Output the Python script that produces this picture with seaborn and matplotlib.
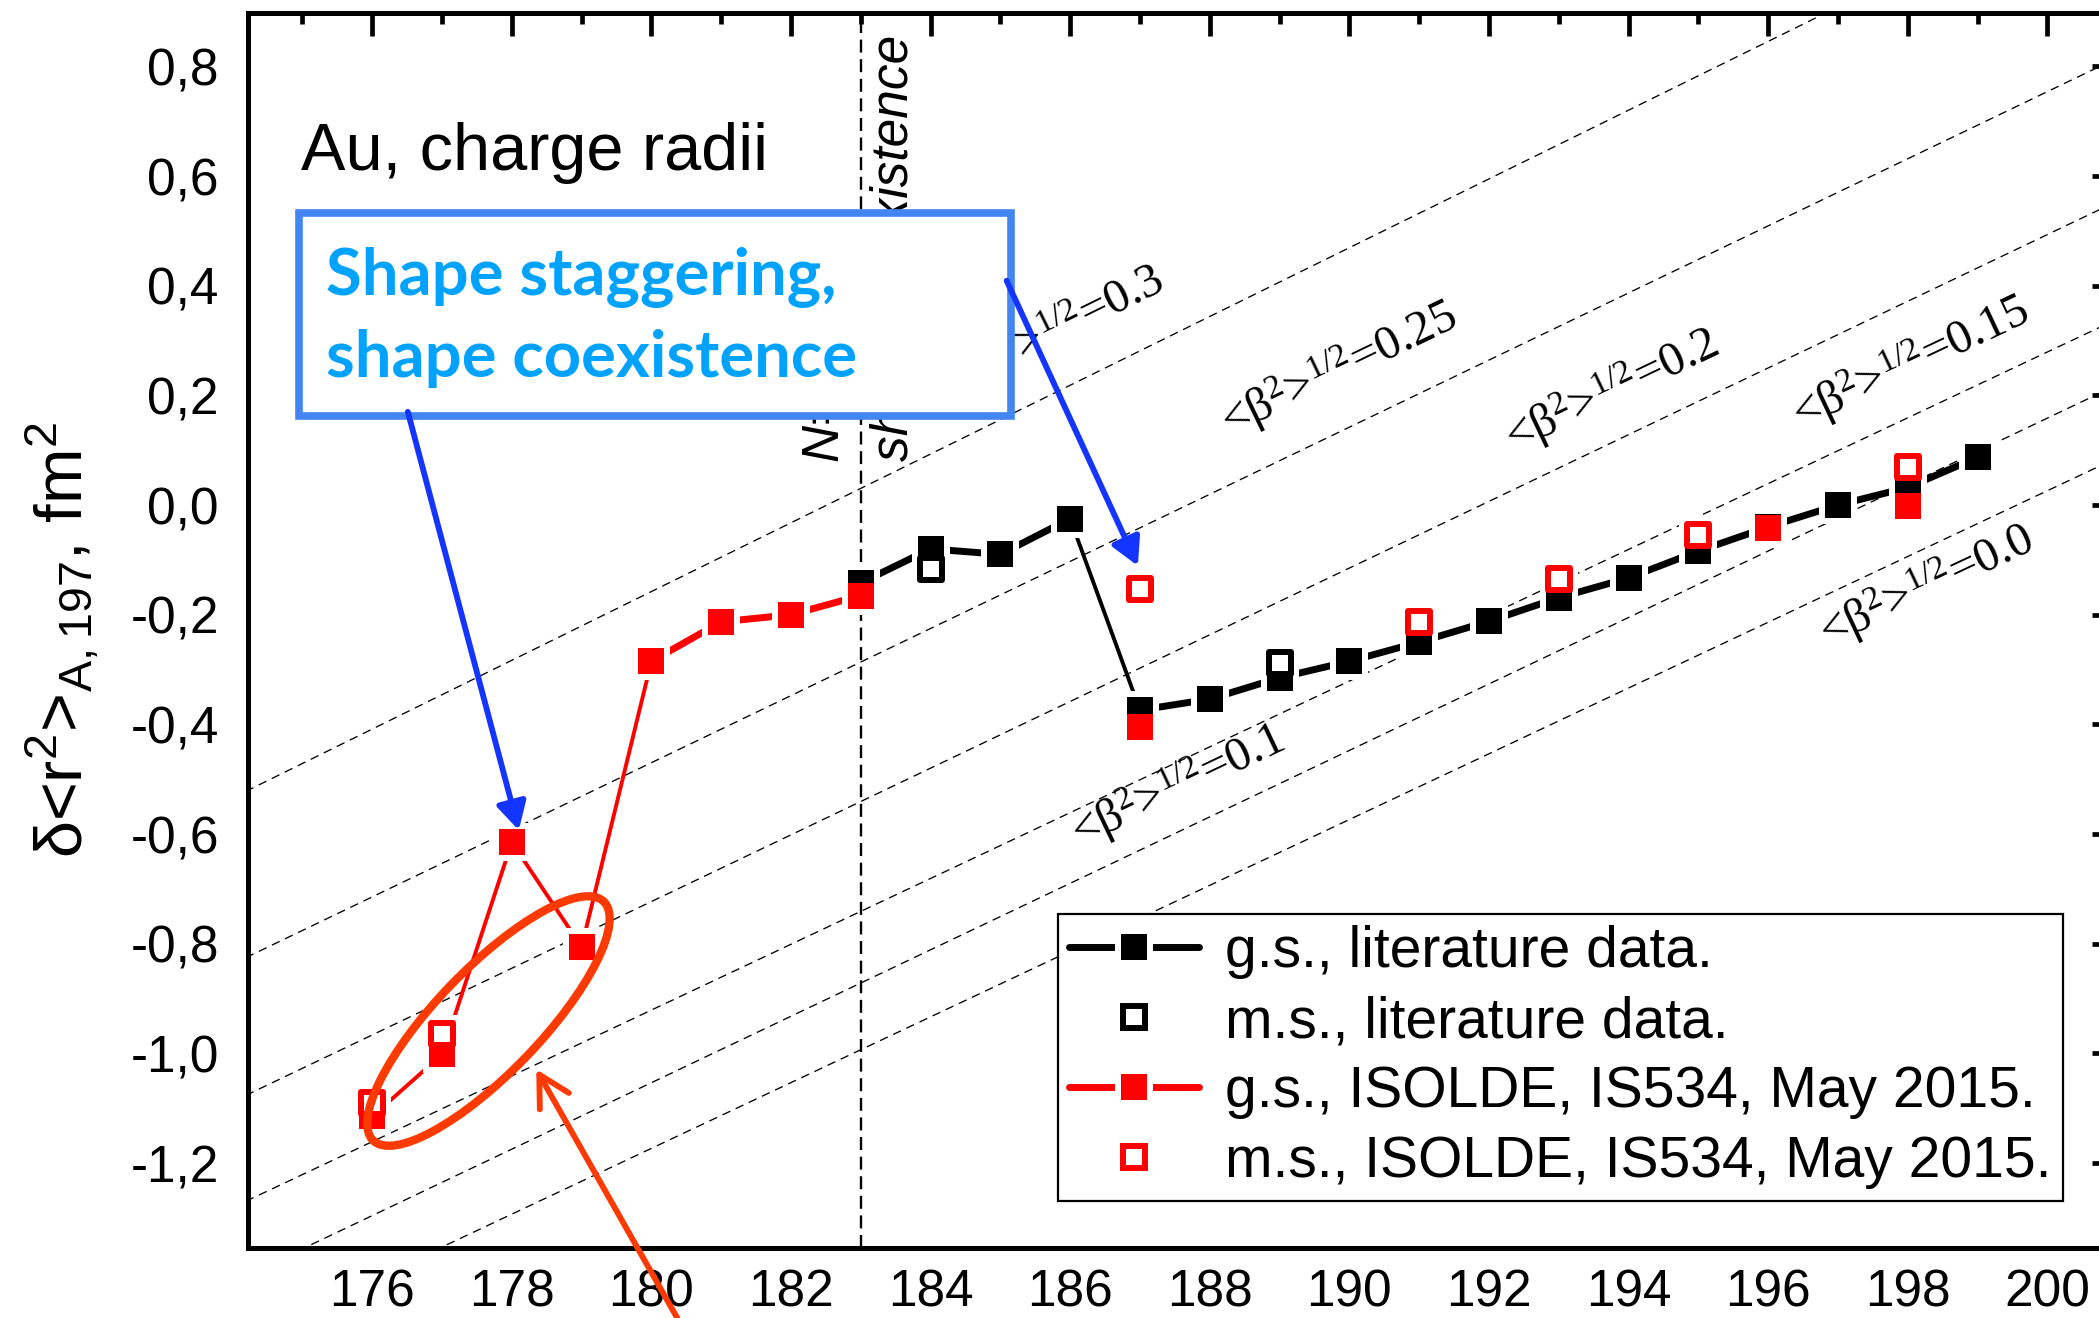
import numpy as np
import pandas as pd
import matplotlib
matplotlib.use("Agg")
import matplotlib.pyplot as plt
import matplotlib.transforms as mtransforms
from matplotlib.patches import Rectangle, Ellipse
from matplotlib.lines import Line2D
from matplotlib.legend_handler import HandlerTuple
from matplotlib.ticker import FixedLocator, FixedFormatter, MultipleLocator
import seaborn as sns

# ---------------- data ----------------
# ground states, literature data (black, filled)
gs_lit_A = [183, 184, 185, 186, 187, 188, 189, 190, 191, 192, 193, 194, 195, 196, 197, 198, 199]
gs_lit_r = [-0.142, -0.080, -0.090, -0.025, -0.374, -0.354, -0.315, -0.285, -0.250,
            -0.212, -0.169, -0.133, -0.084, -0.040, 0.000, 0.032, 0.087]
# isomers, literature data (black, open)
ms_lit_A = [184, 189]
ms_lit_r = [-0.116, -0.288]
# ground states, ISOLDE IS534 (red, filled) - connected chain
gs_iso_A = [176, 177, 178, 179, 180, 181, 182, 183]
gs_iso_r = [-1.115, -1.002, -0.615, -0.806, -0.285, -0.213, -0.200, -0.165]
# ground states, ISOLDE IS534 (red, filled) - single points
gs_iso_single_A = [187, 196, 198]
gs_iso_single_r = [-0.404, -0.041, -0.001]
# isomers, ISOLDE IS534 (red, open)
ms_iso_A = [176, 177, 187, 191, 193, 195, 198]
ms_iso_r = [-1.090, -0.964, -0.154, -0.214, -0.134, -0.055, 0.069]

# iso-deformation lines <beta^2>^1/2 = const : value at A=174 and A=201
beta_labels = ["0.3", "0.25", "0.2", "0.15", "0.1", "0.0"]
beta_line_A = [174.0, 201.0]
beta_r_start = [-0.534, -0.837, -1.088, -1.281, -1.417, -1.533]
beta_r_end = [1.159, 0.815, 0.554, 0.339, 0.219, 0.086]

n104_A = 183  # N = 104 mid-shell

x_ticks = [176, 178, 180, 182, 184, 186, 188, 190, 192, 194, 196, 198, 200]
x_tick_labels = [str(v) for v in x_ticks]
y_ticks = [-1.2, -1.0, -0.8, -0.6, -0.4, -0.2, 0.0, 0.2, 0.4, 0.6, 0.8]
y_tick_labels = ["-1,2", "-1,0", "-0,8", "-0,6", "-0,4", "-0,2", "0,0", "0,2", "0,4", "0,6", "0,8"]

legend_labels = ["g.s., literature data.", "m.s., literature data.",
                 "g.s., ISOLDE, IS534, May 2015.", "m.s., ISOLDE, IS534, May 2015."]

# ---------------- style ----------------
sns.set_theme(style="white")
plt.rcParams["font.family"] = ["Liberation Sans", "DejaVu Sans"]
plt.rcParams["mathtext.default"] = "regular"
plt.rcParams["axes.unicode_minus"] = False

RED = "#FF0000"
BLUE_TXT = "#00A2FF"
BLUE_BOX = "#4485F4"
BLUE_ARR = "#1434FF"
ORANGE = "#FF3A00"

W, H = 2099, 1318
fig = plt.figure(figsize=(W / 100, H / 100), dpi=100)
fig.patch.set_facecolor("white")
ax = fig.add_axes([248 / W, 1 - 1247.5 / H, (2115 - 248) / W, (1247.5 - 12.6) / H])
ax.set_facecolor("white")
ax.set_xlim(174.22, 200.97)
ax.set_ylim(-1.354, 0.898)

# ---------------- iso-deformation lines ----------------
for r0, r1 in zip(beta_r_start, beta_r_end):
    sns.lineplot(x=beta_line_A, y=[r0, r1], ax=ax, color="black", lw=0.95,
                 linestyle=(0, (6.5, 4.5)), zorder=1)

ax.axvline(n104_A, color="black", lw=1.7, linestyle=(0, (5.5, 2.8)), zorder=1)

# ---------------- data series ----------------
gs_lit = pd.DataFrame({"A": gs_lit_A, "r": gs_lit_r})
gs_iso = pd.DataFrame({"A": gs_iso_A, "r": gs_iso_r})

THICK, THIN = 5.0, 2.8

def path(df, a0, a1, color, lw):
    seg = df[(df.A >= a0) & (df.A <= a1)]
    sns.lineplot(data=seg, x="A", y="r", ax=ax, color=color, lw=lw, sort=False,
                 estimator=None, legend=False, zorder=3, solid_capstyle="butt")

path(gs_lit, 183, 186, "black", THICK)
path(gs_lit, 186, 187, "black", THIN)
path(gs_lit, 187, 199, "black", THICK)
path(gs_iso, 176, 180, RED, THIN)
path(gs_iso, 180, 183, RED, THICK)

MS = 18.6      # filled square side (pt)
HALO = 27.0    # white gap around markers (pt)
OPEN_MS = 15.6
OPEN_EW = 4.3

all_A = gs_lit_A + ms_lit_A + gs_iso_A + gs_iso_single_A + ms_iso_A
all_r = gs_lit_r + ms_lit_r + gs_iso_r + gs_iso_single_r + ms_iso_r
sns.scatterplot(x=all_A, y=all_r, ax=ax, marker="s", s=HALO ** 2, color="white",
                edgecolor="white", linewidth=0, zorder=4, legend=False)

sns.scatterplot(x=gs_lit_A, y=gs_lit_r, ax=ax, marker="s", s=MS ** 2, color="black",
                edgecolor="black", linewidth=0, zorder=5, legend=False)
sns.scatterplot(x=ms_lit_A, y=ms_lit_r, ax=ax, marker="s", s=OPEN_MS ** 2, color="white",
                edgecolor="black", linewidth=OPEN_EW, zorder=6, legend=False)
sns.scatterplot(x=gs_iso_A + gs_iso_single_A, y=gs_iso_r + gs_iso_single_r, ax=ax,
                marker="s", s=MS ** 2, color=RED, edgecolor=RED, linewidth=0, zorder=6,
                legend=False)
sns.scatterplot(x=ms_iso_A, y=ms_iso_r, ax=ax, marker="s", s=OPEN_MS ** 2, color="white",
                edgecolor=RED, linewidth=OPEN_EW, zorder=7, legend=False)

# ---------------- axes styling ----------------
for sp in ax.spines.values():
    sp.set_linewidth(3.6)
    sp.set_color("black")
ax.spines["right"].set_visible(False)
ax.xaxis.set_major_locator(FixedLocator(x_ticks))
ax.xaxis.set_major_formatter(FixedFormatter(x_tick_labels))
ax.yaxis.set_major_locator(FixedLocator(y_ticks))
ax.yaxis.set_major_formatter(FixedFormatter(y_tick_labels))
ax.xaxis.set_minor_locator(MultipleLocator(1))
ax.yaxis.set_minor_locator(MultipleLocator(0.1))
ax.tick_params(which="both", direction="in", top=True, right=True, width=3.4,
               color="black", labelsize=37, labelcolor="black")
ax.tick_params(which="major", length=16.5)
ax.tick_params(which="minor", length=8)
ax.tick_params(axis="x", which="major", pad=15)
ax.tick_params(axis="y", which="major", pad=21)
ax.set_xlabel("")
ax.set_ylabel(r"δ<r$^2$>$_{A,197}$, fm$^2$", fontsize=48, color="black")
ax.yaxis.set_label_coords(-0.079, 0.492)

# ---------------- beta labels ----------------
beta_label_pos = [(184.41, 0.205), (188.29, 0.124), (192.36, 0.095),
                  (196.47, 0.137), (186.14, -0.626), (196.86, -0.261)]
fig.canvas.draw()
for lab, r0, r1, (bx, by) in zip(beta_labels, beta_r_start, beta_r_end, beta_label_pos):
    p0 = ax.transData.transform((beta_line_A[0], r0))
    p1 = ax.transData.transform((beta_line_A[1], r1))
    ang = np.degrees(np.arctan2(p1[1] - p0[1], p1[0] - p0[0]))
    ax.text(bx, by, "<β$^2$>$^{1/2}$=" + lab, rotation=ang, rotation_mode="anchor",
            ha="left", va="baseline", fontsize=35, family=["Liberation Serif", "DejaVu Serif"],
            color="black", zorder=2)

# ---------------- texts ----------------
ax.text(174.98, 0.611, "Au, charge radii", fontsize=48, color="black", zorder=2)
ax.text(182.67, 0.080, "N=104", rotation=90, rotation_mode="anchor", ha="left",
        va="baseline", fontsize=37, style="italic", color="black", zorder=2)
ax.text(183.68, 0.080, "shape coexistence", rotation=90, rotation_mode="anchor", ha="left",
        va="baseline", fontsize=37, style="italic", color="black", zorder=2)

# blue box
box = Rectangle((174.95, 0.162), 10.2, 0.371, facecolor="white", edgecolor=BLUE_BOX,
                lw=5.5, zorder=8)
ax.add_patch(box)
ax.text(175.34, 0.383, "Shape staggering,", fontsize=47, weight="bold",
        family=["Lato", "DejaVu Sans"], color=BLUE_TXT, zorder=9)
ax.text(175.34, 0.233, "shape coexistence", fontsize=47, weight="bold",
        family=["Lato", "DejaVu Sans"], color=BLUE_TXT, zorder=9)

# blue arrows
for (x0, y0), (x1, y1) in [((176.51, 0.170), (178.10, -0.593)),
                           ((185.09, 0.409), (186.97, -0.111))]:
    ax.annotate("", xy=(x1, y1), xytext=(x0, y0),
                arrowprops=dict(arrowstyle="-|>,head_length=0.55,head_width=0.3",
                                mutation_scale=30, color=BLUE_ARR, lw=4.2,
                                shrinkA=0, shrinkB=0),
                zorder=10)

# orange ellipse and arrow
ell_tr = fig.dpi_scale_trans + mtransforms.ScaledTranslation(177.665, -0.941, ax.transData)
ell = Ellipse((0, 0), 3.32, 1.04, angle=46, transform=ell_tr, fill=False,
              edgecolor=ORANGE, lw=6, zorder=10)
ax.add_patch(ell)
ax.annotate("", xy=(178.35, -1.029), xytext=(180.55, -1.523),
            arrowprops=dict(arrowstyle="->,head_length=0.55,head_width=0.3",
                            mutation_scale=40, color=ORANGE, lw=4.2,
                            shrinkA=0, shrinkB=0),
            zorder=10, annotation_clip=False)

# ---------------- legend ----------------
def gs_handle(color):
    return (Line2D([], [], color=color, lw=THICK),
            Line2D([], [], ls="none", marker="s", ms=HALO, mfc="white", mec="white", mew=0),
            Line2D([], [], ls="none", marker="s", ms=MS, mfc=color, mec=color, mew=0))

def ms_handle(color):
    return Line2D([], [], ls="none", marker="s", ms=OPEN_MS, mfc="white", mec=color, mew=OPEN_EW)

handles = [gs_handle("black"), ms_handle("black"), gs_handle(RED), ms_handle(RED)]
leg = ax.legend(handles, legend_labels, handler_map={tuple: HandlerTuple(ndivide=1, pad=0)},
                loc="upper left", bbox_to_anchor=(1058 / W, 1 - 914 / H),
                bbox_transform=fig.transFigure, borderaxespad=0, frameon=True,
                fancybox=False, edgecolor="black", framealpha=1, fontsize=41,
                handlelength=2.28, handletextpad=0.45, labelspacing=0.28,
                borderpad=0.2, numpoints=1)
leg.get_frame().set_linewidth(1.6)
leg.set_zorder(20)
for t in leg.get_texts():
    t.set_color("black")

fig.savefig("out.png", dpi=100)
